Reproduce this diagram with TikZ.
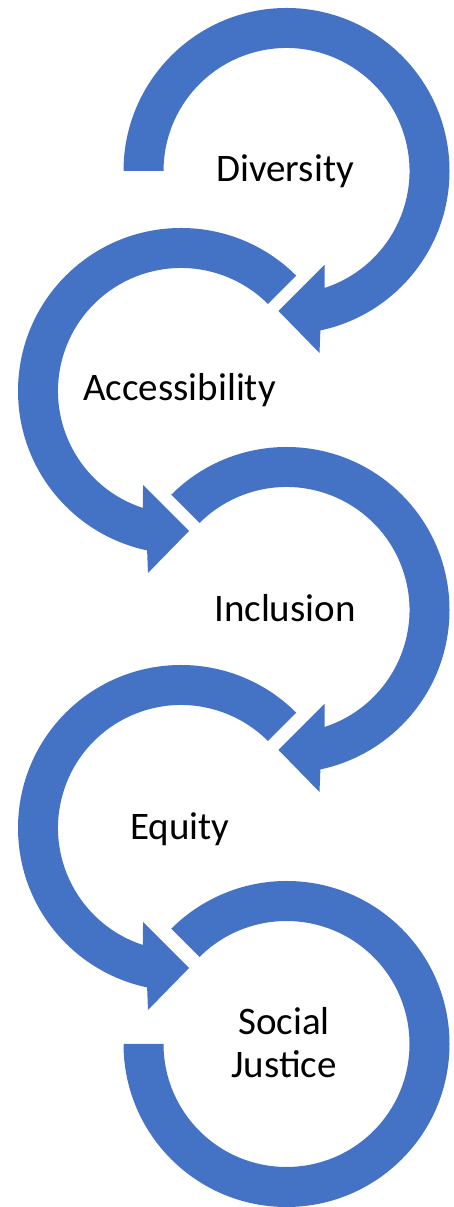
\documentclass[tikz,border=0pt]{standalone}
\usepackage{fontspec}
\setmainfont{Carlito}
\usetikzlibrary{calc}
\definecolor{ringblue}{HTML}{4472C4}
\definecolor{labelink}{HTML}{000000}
\tikzset{
  ring/.style={fill=ringblue, draw=none},
  lbl/.style={text=labelink, inner sep=0pt, font=\fontsize{39}{43}\selectfont}
}
\begin{document}
\begin{tikzpicture}[x=1pt, y=1pt]
\useasboundingbox (0,0) rectangle (454,1207);
\coordinate (c1) at (286.5,1036);
\coordinate (c2) at (181,816);
\coordinate (c3) at (286.5,597);
\coordinate (c4) at (181,379);
\coordinate (c5) at (286.5,163);
% circle 1: clockwise, head at bottom
\fill[ring] ($(c1)+(180:163pt)$) arc[start angle=180, end angle=-78, radius=163pt]
  -- ($(c1)+(33,-182)$) -- ($(c1)+(-8,-140)$) -- ($(c1)+(38,-94)$)
  -- ($(c1)+(-72:123pt)$) arc[start angle=-72, end angle=180, radius=123pt] -- cycle;
% circle 2: counterclockwise from 45 deg
\fill[ring] ($(c2)+(45:163pt)$) arc[start angle=45, end angle=258, radius=163pt]
  -- ($(c2)+(-33,-182)$) -- ($(c2)+(8,-140)$) -- ($(c2)+(-38,-94)$)
  -- ($(c2)+(252:123pt)$) arc[start angle=252, end angle=45, radius=123pt] -- cycle;
% circle 3: clockwise from 135 deg
\fill[ring] ($(c3)+(135:163pt)$) arc[start angle=135, end angle=-78, radius=163pt]
  -- ($(c3)+(33,-182)$) -- ($(c3)+(-8,-140)$) -- ($(c3)+(38,-94)$)
  -- ($(c3)+(-72:123pt)$) arc[start angle=-72, end angle=135, radius=123pt] -- cycle;
% circle 4: counterclockwise from 45 deg
\fill[ring] ($(c4)+(45:163pt)$) arc[start angle=45, end angle=258, radius=163pt]
  -- ($(c4)+(-33,-182)$) -- ($(c4)+(8,-140)$) -- ($(c4)+(-38,-94)$)
  -- ($(c4)+(252:123pt)$) arc[start angle=252, end angle=45, radius=123pt] -- cycle;
% circle 5: open ring, no head
\fill[ring] ($(c5)+(180:163pt)$) arc[start angle=180, end angle=495, radius=163pt]
  -- ($(c5)+(135:123pt)$) arc[start angle=135, end angle=-180, radius=123pt] -- cycle;
% labels
\node[lbl, anchor=base] (diversity) at (285,1025) {Diversity};
\node[lbl, anchor=base] (accessibility) at (179.5,806) {Accessibility};
\node[lbl, anchor=base] (inclusion) at (285,585) {Inclusion};
\node[lbl, anchor=base] (equity) at (180,367) {Equity};
\node[lbl, anchor=base] (socialjustice) at (284,172)
  {\setlength{\tabcolsep}{0pt}\renewcommand{\arraystretch}{1}\begin{tabular}[t]{c}Social\\Justice\end{tabular}};
\end{tikzpicture}
\end{document}
